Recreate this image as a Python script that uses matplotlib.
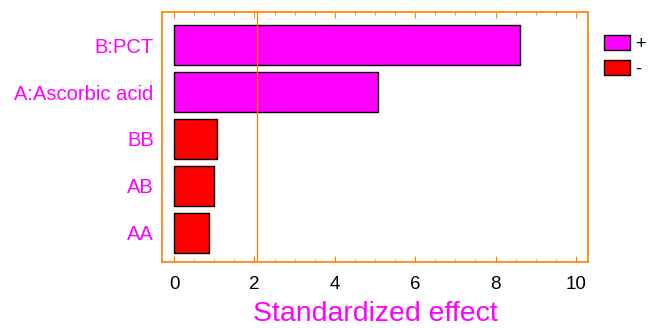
import matplotlib.pyplot as plt
from matplotlib.patches import Patch
from matplotlib.ticker import MultipleLocator

plt.rcParams['font.family'] = ['Liberation Sans', 'DejaVu Sans']

# Pareto chart data (bottom to top)
terms = ['AA', 'AB', 'BB', 'A:Ascorbic acid', 'B:PCT']
effects = [0.87, 1.00, 1.07, 5.07, 8.61]
signs = ['-', '-', '-', '+', '+']
critical = 2.06

orange = '#FF8000'
colors = {'+': '#FF00FF', '-': '#FF0000'}

fig = plt.figure(figsize=(6.49, 3.28), dpi=100)
ax = fig.add_axes([0.2496, 0.201, 0.6564, 0.762])

ax.barh(range(len(terms)), effects, height=0.86, left=0,
        color=[colors[s] for s in signs], edgecolor='black', linewidth=1)
ax.axvline(critical, color=orange, linewidth=0.9)

ax.set_xlim(-0.3, 10.3)
ax.set_ylim(-0.62, 4.7)
ax.set_yticks(range(len(terms)))
ax.set_yticklabels(terms, color='#FF00FF', fontsize=14.5)
ax.tick_params(axis='y', length=0, pad=6)

ax.xaxis.set_major_locator(MultipleLocator(2))
ax.xaxis.set_minor_locator(MultipleLocator(0.5))
ax.tick_params(axis='x', which='both', direction='in', top=True, bottom=True,
               color=orange, labelsize=13.5, pad=10)
ax.tick_params(axis='x', which='major', length=4)
ax.tick_params(axis='x', which='minor', length=2)

for s in ax.spines.values():
    s.set_color(orange)
    s.set_linewidth(1.2)

ax.set_xlabel('Standardized effect', color='#FF00FF', fontsize=20.5, labelpad=6)

handles = [Patch(facecolor=colors['+'], edgecolor='black', label='+'),
           Patch(facecolor=colors['-'], edgecolor='black', label='-')]
fig.legend(handles=handles, loc='upper left', bbox_to_anchor=(0.92, 0.915),
           frameon=False, fontsize=13, handlelength=1.4, handleheight=0.9,
           handletextpad=0.3, labelspacing=0.4, borderaxespad=0)

fig.savefig('out.png', dpi=100)
